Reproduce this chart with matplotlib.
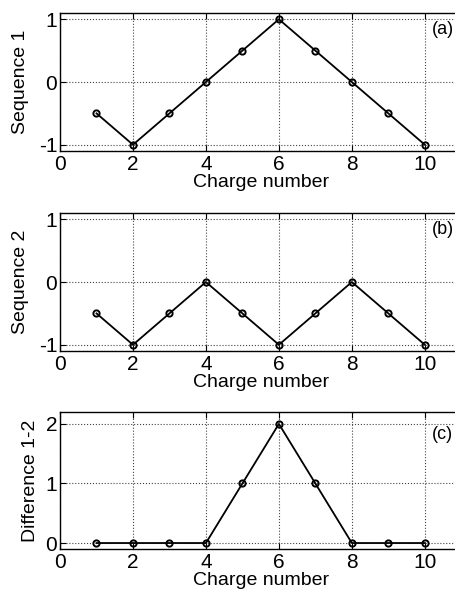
import numpy as np
import matplotlib
matplotlib.use('Agg')
import matplotlib.pyplot as plt

plt.rcParams['font.family'] = ['Liberation Sans', 'DejaVu Sans']
plt.rcParams['axes.unicode_minus'] = False

# Data
charge = [1, 2, 3, 4, 5, 6, 7, 8, 9, 10]
seq1 = [-0.5, -1, -0.5, 0, 0.5, 1, 0.5, 0, -0.5, -1]
seq2 = [-0.5, -1, -0.5, 0, -0.5, -1, -0.5, 0, -0.5, -1]
diff12 = [0, 0, 0, 0, 1, 2, 1, 0, 0, 0]

panels = [
    (seq1, 'Sequence 1', '(a)', (-1.1, 1.1), [-1, 0, 1], 0.98, 7),
    (seq2, 'Sequence 2', '(b)', (-1.1, 1.1), [-1, 0, 1], 0.98, 7),
    (diff12, 'Difference 1-2', '(c)', (-0.1, 2.2), [0, 1, 2], 1.97, 5),
]

# axes positions in figure fraction (left, bottom, width, height)
positions = [
    [0.1316, 0.7445, 0.880, 0.2335],
    [0.1316, 0.4060, 0.880, 0.2336],
    [0.1316, 0.0711, 0.880, 0.2318],
]

fig = plt.figure(figsize=(4.56, 5.91), dpi=100)

for (vals, ylab, tag, ylim, yticks, ty, ypad), pos in zip(panels, positions):
    ax = fig.add_axes(pos)
    ax.plot(charge, vals, color='black', linewidth=1.3, marker='o',
            markersize=4.5, markerfacecolor='none', markeredgecolor='black',
            markeredgewidth=1.4)
    ax.set_xlim(0, 11)
    ax.set_ylim(*ylim)
    ax.set_xticks([0, 2, 4, 6, 8, 10])
    ax.set_yticks(yticks)
    ax.grid(True, linestyle=':', color='#444444', linewidth=0.8)
    ax.tick_params(direction='in', length=4, labelsize=15, pad=2,
                   top=True, right=True)
    ax.tick_params(axis='x', pad=3)
    ax.set_xlabel('Charge number', fontsize=14, labelpad=0)
    ax.set_ylabel(ylab, fontsize=14, labelpad=ypad)
    ax.text(10.2, ty, tag, fontsize=13, ha='left', va='top')
    for s in ax.spines.values():
        s.set_linewidth(1.0)

fig.savefig('out.png', dpi=100)
